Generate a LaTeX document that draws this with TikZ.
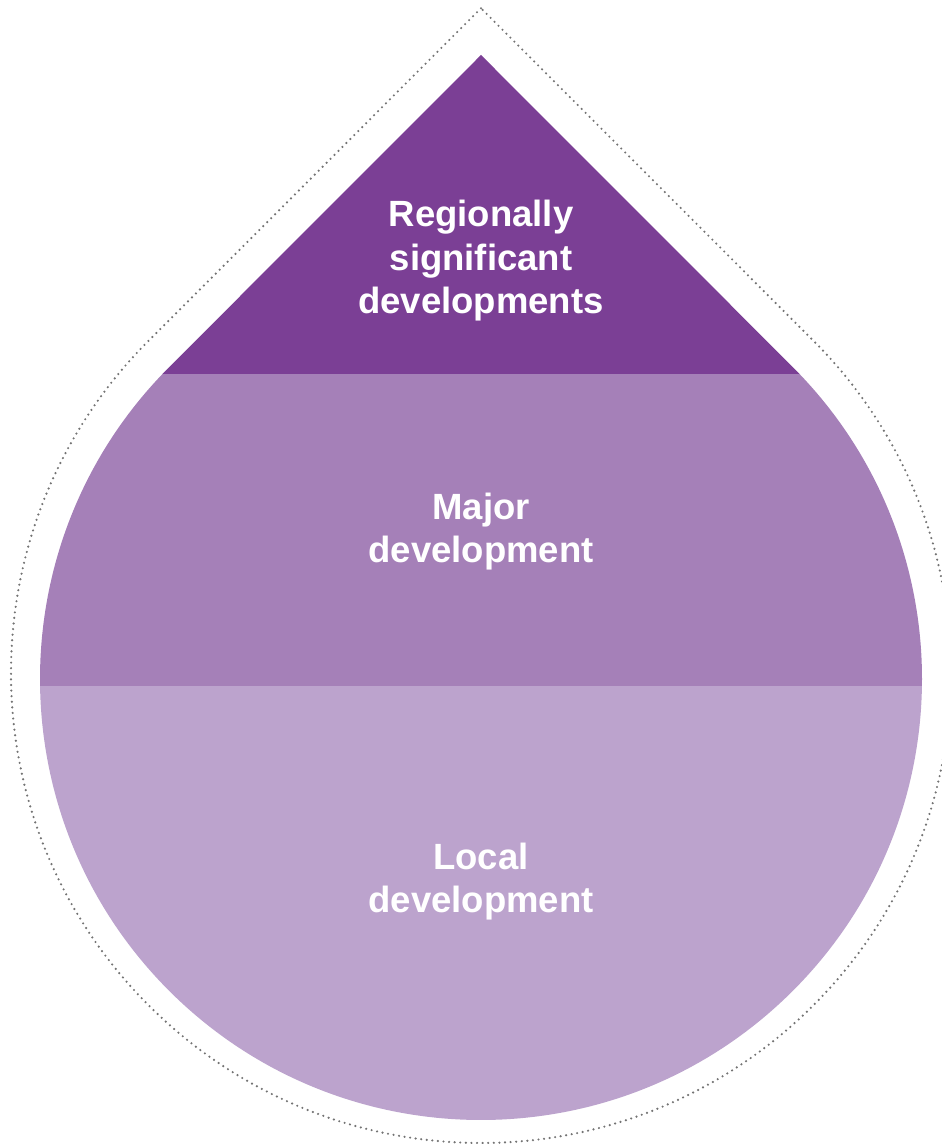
\documentclass[tikz,border=0pt]{standalone}
\usepackage{fontspec}
\setmainfont{Liberation Sans}
\usetikzlibrary{calc}
\definecolor{topc}{HTML}{7B3F95}
\definecolor{midc}{HTML}{A580B8}
\definecolor{botc}{HTML}{BCA3CD}
\definecolor{dotc}{HTML}{737373}
\tikzset{
  lbl/.style={text=white, font=\bfseries\fontsize{36.5}{43.5}\selectfont, align=center, inner sep=0pt, anchor=base},
  dotline/.style={draw=dotc, line width=2.4pt, line cap=round, dash pattern=on 0pt off 5.6pt}
}
\begin{document}
\begin{tikzpicture}[x=1pt,y=1pt]
\useasboundingbox (0,0) rectangle (942,1144);
% outer dotted drop
\coordinate (oc) at (481,471);
\coordinate (oa) at (481,1135.7);
\draw[dotline] (oa) -- ($(oc)+(135:470)$) arc[start angle=135,end angle=405,radius=470] -- cycle;
% inner drop
\coordinate (ic) at (481,465);
\coordinate (ia) at (481,1089);
\begin{scope}
  \clip (ia) -- ($(ic)+(135:441)$) arc[start angle=135,end angle=405,radius=441] -- cycle;
  \fill[botc] (0,0) rectangle (942,458);
  \fill[midc] (0,458) rectangle (942,770);
  \fill[topc] (0,770) rectangle (942,1144);
\end{scope}
\node[lbl] (reg) at (481,830) {Regionally\\significant\\developments};
\node[lbl] (maj) at (481,581) {Major\\development};
\node[lbl] (loc) at (481,231) {Local\\development};
\end{tikzpicture}
\end{document}
